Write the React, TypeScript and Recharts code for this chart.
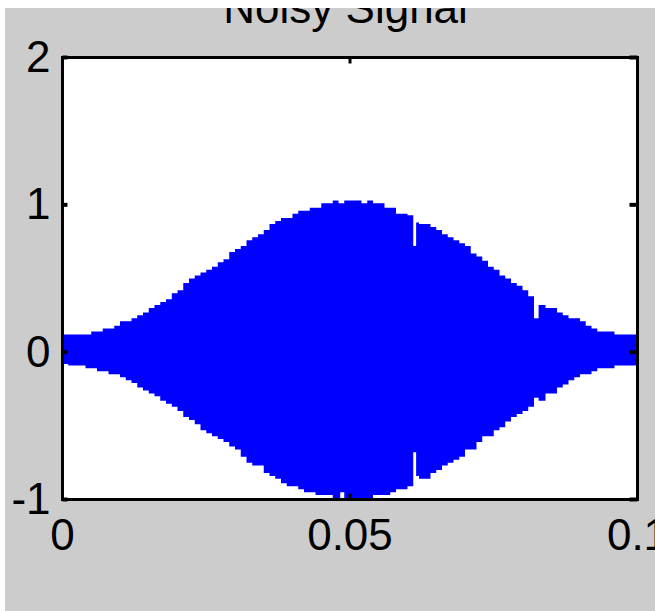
import { Area, AreaChart, CartesianGrid, XAxis, YAxis } from "recharts"

const FONT = "'Liberation Sans', Arial, sans-serif"

// sample times (s), with a few extra points where the signal drops out
const time = [
  0, 0.001, 0.002, 0.003, 0.004, 0.005, 0.006, 0.007, 0.008, 0.009,
  0.01, 0.011, 0.012, 0.013, 0.014, 0.015, 0.016, 0.017, 0.018, 0.019,
  0.02, 0.021, 0.022, 0.023, 0.024, 0.025, 0.026, 0.027, 0.028, 0.029,
  0.03, 0.031, 0.032, 0.033, 0.034, 0.035, 0.036, 0.037, 0.038, 0.039,
  0.04, 0.041, 0.042, 0.043, 0.044, 0.045, 0.046, 0.047, 0.048, 0.0483, 0.049,
  0.05, 0.051, 0.052, 0.053, 0.054, 0.055, 0.056, 0.057, 0.058, 0.059,
  0.06, 0.061, 0.0615, 0.062, 0.063, 0.064, 0.065, 0.066, 0.067, 0.068, 0.069,
  0.07, 0.071, 0.072, 0.073, 0.074, 0.075, 0.076, 0.077, 0.078, 0.079,
  0.08, 0.081, 0.082, 0.0828, 0.083, 0.084, 0.085, 0.086, 0.087, 0.088, 0.089,
  0.09, 0.091, 0.092, 0.093, 0.094, 0.095, 0.096, 0.097, 0.098, 0.099, 0.1,
]

// upper envelope of the noisy signal
const upper = [
  0.12, 0.12, 0.12, 0.12, 0.12, 0.14, 0.14, 0.16, 0.16, 0.18,
  0.21, 0.21, 0.23, 0.25, 0.27, 0.3, 0.32, 0.34, 0.36, 0.4,
  0.42, 0.47, 0.5, 0.52, 0.54, 0.56, 0.58, 0.61, 0.63, 0.68,
  0.7, 0.72, 0.76, 0.78, 0.8, 0.83, 0.87, 0.89, 0.91, 0.91,
  0.94, 0.96, 0.96, 0.98, 0.98, 1.01, 1.01, 1.03, 1.01, 1.01, 1.03,
  1.03, 1.03, 1.01, 1.03, 1.01, 1.01, 0.98, 0.98, 0.94, 0.94,
  0.93, 0.72, 0.88, 0.87, 0.87, 0.85, 0.83, 0.8, 0.78, 0.76, 0.74,
  0.72, 0.67, 0.65, 0.62, 0.58, 0.56, 0.52, 0.5, 0.47, 0.45,
  0.42, 0.38, 0.23, 0.32, 0.32, 0.3, 0.3, 0.27, 0.25, 0.23, 0.23,
  0.21, 0.18, 0.16, 0.14, 0.14, 0.14, 0.12, 0.12, 0.12, 0.12, 0.09,
]

// lower envelope of the noisy signal
const lower = [
  -0.08, -0.09, -0.09, -0.09, -0.11, -0.11, -0.13, -0.13, -0.15, -0.15,
  -0.17, -0.19, -0.21, -0.24, -0.26, -0.28, -0.3, -0.33, -0.35, -0.37,
  -0.4, -0.44, -0.46, -0.49, -0.53, -0.55, -0.57, -0.59, -0.61, -0.64,
  -0.66, -0.71, -0.75, -0.77, -0.77, -0.82, -0.84, -0.86, -0.89, -0.91,
  -0.91, -0.93, -0.95, -0.95, -0.97, -0.97, -0.97, -1.0, -1.0, -0.95, -1.0,
  -1.0, -1.0, -1.0, -1.0, -0.97, -0.97, -0.97, -0.95, -0.93, -0.93,
  -0.91, -0.68, -0.84, -0.86, -0.86, -0.82, -0.8, -0.77, -0.75, -0.73, -0.71,
  -0.66, -0.66, -0.61, -0.57, -0.57, -0.53, -0.51, -0.47, -0.44, -0.42,
  -0.4, -0.37, -0.31, -0.33, -0.33, -0.28, -0.28, -0.24, -0.22, -0.19, -0.17,
  -0.15, -0.15, -0.13, -0.11, -0.11, -0.11, -0.09, -0.09, -0.09, -0.09, -0.09,
]

const xTicks = [0, 0.05, 0.1]
const yTicks = [-1, 0, 1, 2]

const rows = time.map((t, i) => ({ t, range: [lower[i], upper[i]] }))

const label = { fontSize: 44, fontFamily: FONT, fill: "#000" }

const BottomTick = (props: any) => {
  const { x, y, payload } = props
  return (
    <g>
      <line x1={x} x2={x} y1={y} y2={y - 6} stroke="#000" strokeWidth={3} />
      <text x={x} y={y + 50} textAnchor="middle" {...label}>
        {String(payload.value)}
      </text>
    </g>
  )
}

const TopTick = (props: any) => {
  const { x, y } = props
  return <line x1={x} x2={x} y1={y} y2={y + 6} stroke="#000" strokeWidth={3} />
}

const LeftTick = (props: any) => {
  const { x, y, payload } = props
  return (
    <g>
      <line x1={x} x2={x + 5} y1={y} y2={y} stroke="#000" strokeWidth={4} />
      <text x={x - 12} y={y + 14.5} textAnchor="end" {...label}>
        {String(payload.value)}
      </text>
    </g>
  )
}

const RightTick = (props: any) => {
  const { x, y } = props
  return <line x1={x} x2={x - 8} y1={y} y2={y} stroke="#000" strokeWidth={4} />
}

const frame = { stroke: "#000", strokeWidth: 3, strokeLinecap: "square" as const }

export default function App() {
  return (
    <div style={{ position: "fixed", left: 0, top: 0, width: 655, height: 611, background: "#fff", overflow: "hidden" }}>
      <div style={{ position: "absolute", left: 5, top: 8, width: 650, height: 603, background: "#cccccc", overflow: "hidden" }}>
        <svg width={650} height={40} style={{ position: "absolute", left: 0, top: 0 }}>
          <text x={340.6} y={15} textAnchor="middle" {...label}>
            Noisy Signal
          </text>
        </svg>
        <div style={{ position: "absolute", left: 0, top: 0 }}>
          <AreaChart
            width={650}
            height={603}
            data={rows}
            margin={{ top: 48.5, right: 16.5, bottom: 110.5, left: 56.5 }}
          >
            <CartesianGrid fill="#fff" horizontal={false} vertical={false} />
            <XAxis
              xAxisId="b"
              dataKey="t"
              type="number"
              domain={[0, 0.1]}
              ticks={xTicks}
              interval={0}
              allowDataOverflow
              height={1}
              tickSize={0}
              tickMargin={0}
              axisLine={frame}
              tickLine={false}
              tick={<BottomTick />}
            />
            <XAxis
              xAxisId="t"
              orientation="top"
              dataKey="t"
              type="number"
              domain={[0, 0.1]}
              ticks={xTicks}
              interval={0}
              allowDataOverflow
              height={1}
              tickSize={0}
              tickMargin={0}
              axisLine={frame}
              tickLine={false}
              tick={<TopTick />}
            />
            <YAxis
              yAxisId="l"
              type="number"
              domain={[-1, 2]}
              ticks={yTicks}
              interval={0}
              allowDataOverflow
              width={1}
              tickSize={0}
              tickMargin={0}
              axisLine={frame}
              tickLine={false}
              tick={<LeftTick />}
            />
            <YAxis
              yAxisId="r"
              orientation="right"
              type="number"
              domain={[-1, 2]}
              ticks={yTicks}
              interval={0}
              allowDataOverflow
              width={1}
              tickSize={0}
              tickMargin={0}
              axisLine={frame}
              tickLine={false}
              tick={<RightTick />}
            />
            <Area
              xAxisId="b"
              yAxisId="l"
              dataKey="range"
              type="stepAfter"
              fill="#0000ff"
              fillOpacity={1}
              stroke="none"
              dot={false}
              activeDot={false}
              isAnimationActive={false}
            />
          </AreaChart>
        </div>
      </div>
    </div>
  )
}
